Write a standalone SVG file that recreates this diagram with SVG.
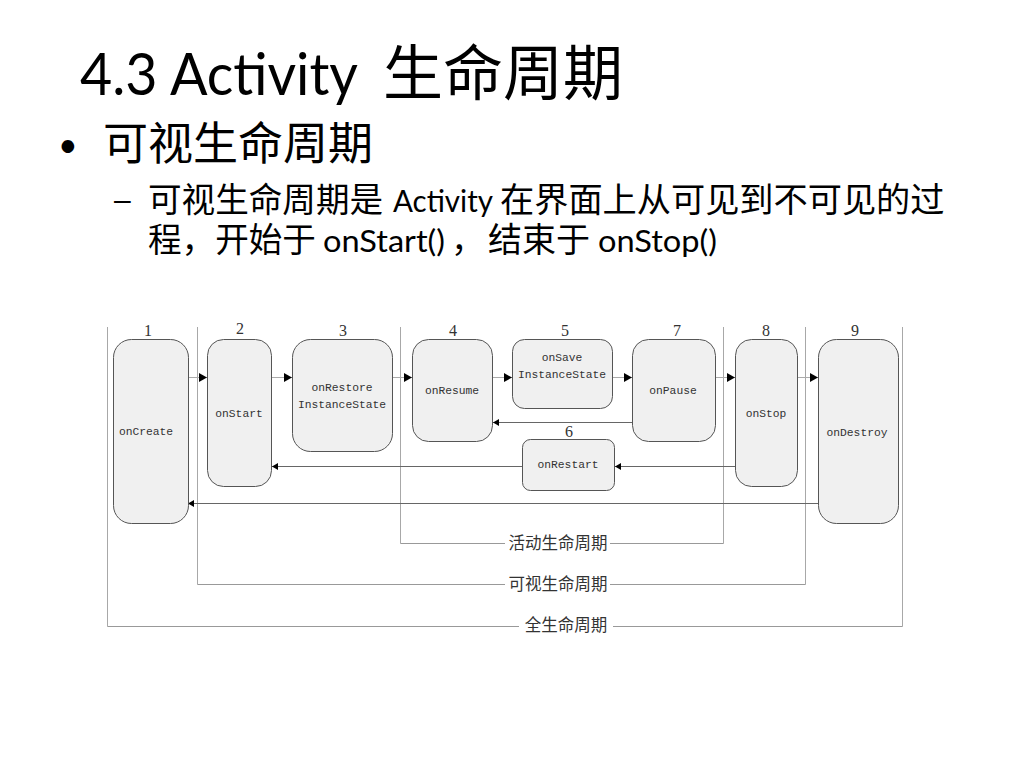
<svg xmlns="http://www.w3.org/2000/svg" width="1024" height="768" viewBox="0 0 1024 768">
  <style>
    .lat { font-family: Lato, "Noto Sans CJK SC", sans-serif; fill: #000; }
    .cjk { font-family: "Noto Sans CJK SC", sans-serif; fill: #000; }
    .lane { stroke: #a8a8a8; stroke-width: 1; fill: none; }
    .box { fill: #f0f0f0; stroke: #555; stroke-width: 1; }
    .lbl { font-family: "Liberation Mono", "DejaVu Sans Mono", monospace; font-size: 11.3px; fill: #333; text-anchor: middle; }
    .num { font-family: "Liberation Serif", serif; font-size: 16px; fill: #333; text-anchor: middle; }
    .fwd { stroke: #aaa; stroke-width: 1; fill: none; marker-end: url(#ah); }
    .back { stroke: #666; stroke-width: 1; fill: none; marker-end: url(#ahs); }
    .span { stroke: #999; stroke-width: 1; fill: none; }
    .spanlbl { font-family: "Noto Sans CJK SC", sans-serif; font-size: 16.5px; fill: #333; text-anchor: middle; }
  </style>
  <defs>
    <marker id="ah" markerWidth="9" markerHeight="9" refX="8" refY="4.5" orient="auto" markerUnits="userSpaceOnUse">
      <path d="M0,0 L8,4.5 L0,9 Z" fill="#000"/>
    </marker>
    <marker id="ahs" markerWidth="7" markerHeight="7" refX="6" refY="3.5" orient="auto" markerUnits="userSpaceOnUse">
      <path d="M0,0 L6,3.5 L0,7 Z" fill="#000"/>
    </marker>
  </defs>

  <rect width="1024" height="768" fill="#fff"/>

  <!-- Slide heading -->
  <text class="lat" x="80" y="95" font-size="58" textLength="278" lengthAdjust="spacingAndGlyphs">4.3 Activity</text>
  <text class="cjk" x="383" y="95" font-size="60">生命周期</text>

  <!-- First-level bullet -->
  <text class="lat" x="58" y="157" font-size="34">•</text>
  <text class="cjk" x="103" y="160" font-size="45">可视生命周期</text>

  <!-- Second-level bullet, line 1 -->
  <text x="114" y="210" font-family="Liberation Sans, sans-serif" font-size="30">–</text>
  <text class="cjk" x="148" y="212" font-size="33.6">可视生命周期是</text>
  <text class="lat" x="393" y="212" font-size="30" textLength="100" lengthAdjust="spacingAndGlyphs">Activity</text>
  <text class="cjk" x="500" y="212" font-size="34.2">在界面上从可见到不可见的过</text>

  <!-- Second-level bullet, line 2 -->
  <text class="cjk" x="148" y="252" font-size="33.6">程，开始于</text>
  <text class="lat" x="323" y="252" font-size="30" textLength="122" lengthAdjust="spacingAndGlyphs">onStart()</text>
  <text class="cjk" x="451" y="252" font-size="33.6">，</text>
  <text class="cjk" x="488" y="252" font-size="34">结束于</text>
  <text class="lat" x="598" y="252" font-size="30" textLength="119" lengthAdjust="spacingAndGlyphs">onStop()</text>

  <!-- Lane separators -->
  <g id="lanes">
    <line class="lane" x1="107.5" y1="327" x2="107.5" y2="626.5"/>
    <line class="lane" x1="197.5" y1="327" x2="197.5" y2="584.5"/>
    <line class="lane" x1="400.5" y1="327" x2="400.5" y2="543.5"/>
    <line class="lane" x1="723.5" y1="327" x2="723.5" y2="543.5"/>
    <line class="lane" x1="805.5" y1="327" x2="805.5" y2="584.5"/>
    <line class="lane" x1="902.5" y1="327" x2="902.5" y2="626.5"/>
  </g>

  <!-- Lifetime spans -->
  <g id="spans">
    <line class="span" x1="400.5" y1="543.5" x2="505" y2="543.5"/>
    <line class="span" x1="610" y1="543.5" x2="723.5" y2="543.5"/>
    <text class="spanlbl" x="558" y="549">活动生命周期</text>
    <line class="span" x1="197.5" y1="584.5" x2="505" y2="584.5"/>
    <line class="span" x1="610" y1="584.5" x2="805.5" y2="584.5"/>
    <text class="spanlbl" x="558" y="590">可视生命周期</text>
    <line class="span" x1="107.5" y1="626.5" x2="519" y2="626.5"/>
    <line class="span" x1="613" y1="626.5" x2="902.5" y2="626.5"/>
    <text class="spanlbl" x="566" y="631">全生命周期</text>
  </g>

  <!-- Connectors -->
  <g id="connectors">
    <line class="fwd" x1="188" y1="377.5" x2="207" y2="377.5"/>
    <line class="fwd" x1="272" y1="377.5" x2="292" y2="377.5"/>
    <line class="fwd" x1="393" y1="377.5" x2="412" y2="377.5"/>
    <line class="fwd" x1="493" y1="377.5" x2="512" y2="377.5"/>
    <line class="fwd" x1="613" y1="377.5" x2="632" y2="377.5"/>
    <line class="fwd" x1="716" y1="377.5" x2="735" y2="377.5"/>
    <line class="fwd" x1="798" y1="377.5" x2="818" y2="377.5"/>
    <line class="back" x1="632" y1="422.5" x2="493" y2="422.5"/>
    <line class="back" x1="735" y1="466.5" x2="615" y2="466.5"/>
    <line class="back" x1="522" y1="466.5" x2="272" y2="466.5"/>
    <line class="back" x1="818" y1="503.5" x2="188" y2="503.5"/>
  </g>

  <!-- Lifecycle callbacks -->
  <g id="onCreate">
    <rect class="box" x="113.5" y="339.5" width="75" height="184" rx="18"/>
    <text class="num" x="148" y="336">1</text>
    <text class="lbl" x="146" y="435">onCreate</text>
  </g>
  <g id="onStart">
    <rect class="box" x="207.5" y="339.5" width="64" height="147" rx="16"/>
    <text class="num" x="240" y="334">2</text>
    <text class="lbl" x="239" y="417">onStart</text>
  </g>
  <g id="onRestoreInstanceState">
    <rect class="box" x="292.5" y="339.5" width="100" height="112" rx="18"/>
    <text class="num" x="343" y="336">3</text>
    <text class="lbl" x="342" y="391">onRestore</text>
    <text class="lbl" x="342" y="408">InstanceState</text>
  </g>
  <g id="onResume">
    <rect class="box" x="412.5" y="339.5" width="80" height="102" rx="16"/>
    <text class="num" x="453" y="336">4</text>
    <text class="lbl" x="452" y="394">onResume</text>
  </g>
  <g id="onSaveInstanceState">
    <rect class="box" x="512.5" y="339.5" width="100" height="69" rx="12"/>
    <text class="num" x="565" y="336">5</text>
    <text class="lbl" x="562" y="361">onSave</text>
    <text class="lbl" x="562" y="378">InstanceState</text>
  </g>
  <g id="onRestart">
    <rect class="box" x="522.5" y="439.5" width="92" height="51" rx="8"/>
    <text class="num" x="569" y="437">6</text>
    <text class="lbl" x="568" y="468">onRestart</text>
  </g>
  <g id="onPause">
    <rect class="box" x="632.5" y="339.5" width="83" height="102" rx="16"/>
    <text class="num" x="677" y="336">7</text>
    <text class="lbl" x="673" y="394">onPause</text>
  </g>
  <g id="onStop">
    <rect class="box" x="735.5" y="339.5" width="62" height="147" rx="16"/>
    <text class="num" x="766" y="336">8</text>
    <text class="lbl" x="766" y="417">onStop</text>
  </g>
  <g id="onDestroy">
    <rect class="box" x="818.5" y="339.5" width="80" height="184" rx="18"/>
    <text class="num" x="855" y="336">9</text>
    <text class="lbl" x="857" y="436">onDestroy</text>
  </g>
</svg>
